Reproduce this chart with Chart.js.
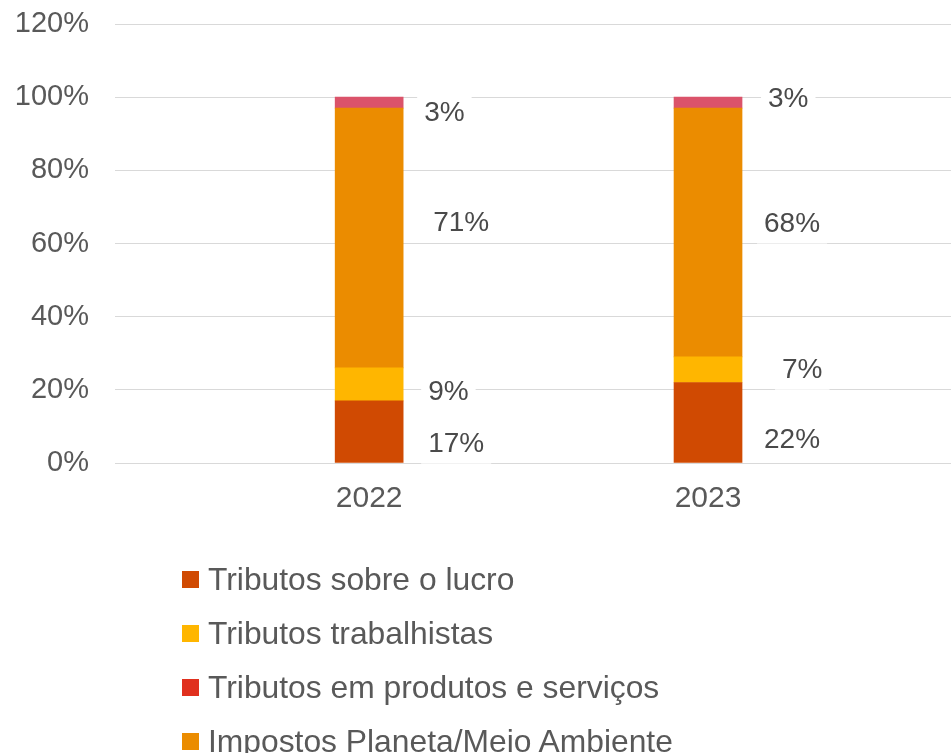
<!DOCTYPE html>
<html>
<head>
<meta charset="utf-8">
<script src="https://cdn.jsdelivr.net/npm/chart.js@4.4.1/dist/chart.umd.min.js"></script>
<style>
  body { margin: 0; background: #fff; }
  #wrap { position: relative; width: 951px; height: 753px; }
  #legend { position: absolute; left: 182px; top: 552px; font-family: 'Liberation Sans', Arial, sans-serif; font-size: 31.8px; color: #595959; }
  #legend div { height: 54px; display: flex; align-items: center; white-space: nowrap; }
  #legend span.box { display: inline-block; width: 17px; height: 17px; margin-right: 9px; }
</style>
</head>
<body>
<div id="wrap">
  <canvas id="grafico"></canvas>
  <div id="legend"></div>
</div>
<script>
// Datos
const anos = ["2022", "2023"];
const series = [
  "Tributos sobre o lucro",
  "Tributos trabalhistas",
  "Tributos em produtos e serviços",
  "Impostos Planeta/Meio Ambiente",
];
const lucro = [17, 22];
const trabalhistas = [9, 7];
const produtos = [71, 68];
const planeta = [3, 3];
const yTicks = [0, 20, 40, 60, 80, 100, 120];

// Colores de barras y de la leyenda (en el original no coinciden)
const coresBarra = ["#D04A02", "#FFB600", "#EB8C00", "#DB536A"];
const coresLegenda = ["#D04A02", "#FFB600", "#E0301E", "#EB8C00"];

// Desplazamiento manual de cada etiqueta [dx desde el borde de la barra, dy desde el centro del segmento]
const ajusteEtiquetas = [
  [[25, 13], [22, 18]],
  [[25, 8], [40, 1]],
  [[30, -15], [22, -8]],
  [[21, 11], [26, -3]],
];

const fonte = "'Liberation Sans', Arial, sans-serif";
Chart.defaults.font.family = fonte;

const valores = [lucro, trabalhistas, produtos, planeta];

// Etiquetas con fondo blanco a la derecha de cada segmento
const etiquetas = {
  id: "etiquetas",
  afterDatasetsDraw(chart) {
    const ctx = chart.ctx;
    ctx.save();
    ctx.font = "28px " + fonte;
    ctx.textAlign = "left";
    ctx.textBaseline = "middle";
    chart.data.datasets.forEach((ds, d) => {
      const meta = chart.getDatasetMeta(d);
      meta.data.forEach((bar, i) => {
        const txt = valores[d][i] + "%";
        const [dx, dy] = ajusteEtiquetas[d][i];
        const x = bar.x + bar.width / 2 + dx;
        const y = (bar.y + bar.base) / 2 + dy;
        const w = ctx.measureText(txt).width;
        ctx.fillStyle = "#ffffff";
        ctx.fillRect(x - 7, y - 21, w + 14, 40);
        ctx.fillStyle = "#4a4a4a";
        ctx.fillText(txt, x, y);
      });
    });
    ctx.restore();
  },
};

const ctx = document.getElementById("grafico").getContext("2d");
new Chart(ctx, {
  type: "bar",
  data: {
    datasets: series.map((nome, d) => ({
      label: nome,
      data: valores[d].map((v, i) => ({ x: i, y: v })),
      backgroundColor: coresBarra[d],
      barThickness: 68,
      borderWidth: 0,
    })),
  },
  options: {
    responsive: true,
    maintainAspectRatio: false,
    animation: false,
    layout: { padding: { top: 24, right: 0, left: 0, bottom: 218 } },
    scales: {
      x: {
        type: "linear",
        stacked: true,
        offset: false,
        min: -0.75,
        max: 1.717,
        grid: { display: false, drawTicks: false },
        border: { display: false },
        afterBuildTicks: (scale) => {
          scale.ticks = anos.map((_, i) => ({ value: i }));
        },
        afterFit: (scale) => {
          scale.paddingLeft = 0;
          scale.paddingRight = 0;
        },
        ticks: {
          padding: 18,
          color: "#595959",
          font: { size: 30 },
          autoSkip: false,
          maxRotation: 0,
          callback: (v) => anos[v],
        },
      },
      y: {
        stacked: true,
        min: 0,
        max: 120,
        afterBuildTicks: (scale) => {
          scale.ticks = yTicks.map((v) => ({ value: v }));
        },
        afterFit: (scale) => {
          scale.width = 115;
          scale.paddingTop = 0;
          scale.paddingBottom = 0;
        },
        grid: { color: "#d9d9d9", drawTicks: false },
        border: { display: false },
        ticks: {
          padding: 26,
          color: "#595959",
          font: { size: 29 },
          callback: (v) => v + "%",
        },
      },
    },
    plugins: {
      legend: { display: false },
      tooltip: { enabled: false },
    },
  },
  plugins: [etiquetas],
});

// Leyenda en HTML, lista vertical
const legenda = document.getElementById("legend");
series.forEach((nome, d) => {
  const linha = document.createElement("div");
  const box = document.createElement("span");
  box.className = "box";
  box.style.background = coresLegenda[d];
  linha.appendChild(box);
  linha.appendChild(document.createTextNode(nome));
  legenda.appendChild(linha);
});
</script>
</body>
</html>
